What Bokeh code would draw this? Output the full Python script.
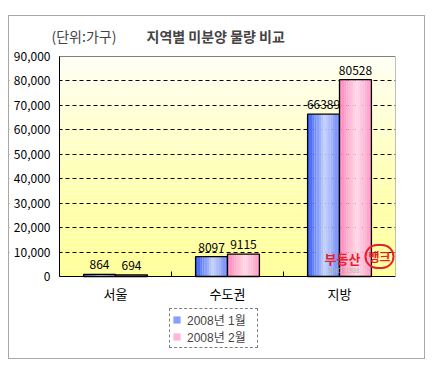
from bokeh.plotting import figure
from bokeh.models import (ColumnDataSource, FixedTicker, NumeralTickFormatter, Range1d,
                          Legend, LegendItem, Label)
from bokeh.core.properties import value
from bokeh.embed import file_html
from bokeh.resources import INLINE

# ---- data ----
categories = ["서울", "수도권", "지방"]
series_names = ["2008년 1월", "2008년 2월"]
jan = [864, 8097, 66389]
feb = [694, 9115, 80528]
y_ticks = [0, 10000, 20000, 30000, 40000, 50000, 60000, 70000, 80000, 90000]
title_unit = "(단위:가구)"
title_main = "지역별 미분양 물량 비교"

FONT = "Noto Sans CJK KR"
LFONT = "'Liberation Sans', 'Noto Sans CJK KR'"
Y_MAX = y_ticks[-1]
PLOT_PX = 220      # pixel height of the 0..90,000 plot area
ABOVE_PX = 255     # frame pixels above the zero line (plot area + title strip)
BELOW_PX = 84      # frame pixels below the zero line (category labels + legend)
K = Y_MAX / PLOT_PX
LEFT_PX = 50       # frame pixels left of the plot area (y tick labels)
PLOT_W_PX = 336
ncat = len(categories)
XK = ncat / PLOT_W_PX

def hex2rgb(h):
    h = h.lstrip("#")
    return tuple(int(h[i:i + 2], 16) for i in (0, 2, 4))

def lerp_color(stops, t):
    for (t0, c0), (t1, c1) in zip(stops[:-1], stops[1:]):
        if t0 <= t <= t1:
            f = (t - t0) / (t1 - t0) if t1 > t0 else 0
            a, b = hex2rgb(c0), hex2rgb(c1)
            return "#%02x%02x%02x" % tuple(int(round(a[k] + (b[k] - a[k]) * f)) for k in range(3))
    return stops[-1][1]

blue_stops = [(0.0, "#3358ff"), (0.55, "#c4d2ff"), (1.0, "#6a84ff")]
pink_stops = [(0.0, "#ff84bb"), (0.55, "#ffd9ec"), (1.0, "#ff96c8")]

x_start = -LEFT_PX * XK
p = figure(width=417, height=344, output_backend="svg", toolbar_location=None,
           x_range=Range1d(x_start, ncat), y_range=Range1d(-BELOW_PX * K, ABOVE_PX * K),
           min_border_left=0, min_border_right=31, min_border_top=5, min_border_bottom=0,
           background_fill_color="#ffffff", border_fill_color="#ffffff")
p.margin = (15, 0, 0, 8)
p.styles = {"border": "1px solid #a8a8a8"}
p.outline_line_color = None

# background vertical gradient of the plot area
nb = 45
bg = dict(left=[], right=[], bottom=[], top=[], color=[])
for i in range(nb):
    t = (i + 0.5) / nb
    bg["left"].append(0); bg["right"].append(ncat)
    bg["bottom"].append(Y_MAX * i / nb); bg["top"].append(Y_MAX * (i + 1) / nb)
    bg["color"].append(lerp_color([(0.0, "#ffff99"), (0.45, "#ffffb6"), (1.0, "#fffff5")], t))
p.quad(left="left", right="right", bottom="bottom", top="top", source=ColumnDataSource(bg),
       fill_color="color", line_color=None, level="image")

# white strip left of the plot area (keeps grid lines inside the plot area)
p.quad(left=[x_start], right=[0], bottom=[0], top=[Y_MAX], fill_color="white", line_color=None)

# bars with horizontal gradient
bw = 0.285
ns = 14
centers = [i + 0.5 for i in range(ncat)]
legend_items = []
for si, (vals, stops, off) in enumerate([(jan, blue_stops, -bw / 2), (feb, pink_stops, bw / 2)]):
    d = dict(x=[], w=[], top=[], color=[])
    for c, v in zip(centers, vals):
        left = c + off - bw / 2
        for k in range(ns):
            t = (k + 0.5) / ns
            d["x"].append(left + (k + 0.5) * bw / ns)
            d["w"].append(bw / ns * 1.02)
            d["top"].append(v)
            d["color"].append(lerp_color(stops, t))
    r_fill = p.vbar(x="x", width="w", top="top", bottom=0, source=ColumnDataSource(d),
                    fill_color="color", line_color=None)
    o = dict(x=[c + off for c in centers], top=vals)
    r_out = p.vbar(x="x", width=bw, top="top", bottom=0, source=ColumnDataSource(o),
                   fill_alpha=0, line_color="black", line_width=1.3)
    legend_items.append(LegendItem(label=series_names[si], renderers=[r_fill, r_out], index=4))

# plot-area border (grey top/right)
p.quad(left=[0], right=[ncat], bottom=[0], top=[Y_MAX], fill_color=None,
       line_color="#808080", line_width=1)

# value labels
lab = dict(x=[c - bw / 2 for c in centers] + [c + bw / 2 for c in centers],
           y=jan + feb, t=[str(v) for v in jan + feb])
p.text(x="x", y="y", text="t", source=ColumnDataSource(lab), text_align="center",
       text_baseline="bottom", y_offset=-5, text_font=value(FONT), text_font_size="12px",
       text_color="black")

# axes
p.xgrid.visible = False
p.ygrid.ticker = FixedTicker(ticks=y_ticks[1:-1])
p.ygrid.grid_line_color = "black"
p.ygrid.grid_line_dash = "4 3"
p.ygrid.grid_line_width = 1

ya = p.yaxis[0]
ya.fixed_location = 0
ya.ticker = FixedTicker(ticks=y_ticks)
ya.bounds = (0, Y_MAX)
ya.formatter = NumeralTickFormatter(format="0,0")
ya.major_tick_in = 0
ya.major_tick_out = 0
ya.minor_tick_in = 0
ya.minor_tick_out = 0
ya.axis_line_color = "black"
ya.major_label_standoff = 9
ya.major_label_text_font = FONT
ya.major_label_text_font_size = "12px"
ya.major_label_text_color = "black"

xa = p.xaxis[0]
xa.fixed_location = 0
xa.bounds = (0, ncat)
xa.ticker = FixedTicker(ticks=centers, minor_ticks=[1, 2])
xa.major_label_overrides = {c: name for c, name in zip(centers, categories)}
xa.major_tick_in = 0
xa.major_tick_out = 0
xa.minor_tick_in = 5
xa.minor_tick_out = 0
xa.minor_tick_line_color = "black"
xa.axis_line_color = "black"
xa.major_label_standoff = 7
xa.major_label_text_font = FONT
xa.major_label_text_font_size = "13px"
xa.major_label_text_color = "black"

# legend (inside the frame, below the category labels)
legend = Legend(items=legend_items, location=(160, 12), orientation="vertical",
                border_line_color="black", border_line_dash="3 2", border_line_width=1,
                background_fill_color="white", background_fill_alpha=1,
                padding=2, spacing=0, margin=0, glyph_width=9, glyph_height=9,
                label_standoff=6, label_height=14, label_width=68,
                label_text_font=LFONT, label_text_font_size="12px")
p.add_layout(legend)

# titles
p.add_layout(Label(x=42, y=ABOVE_PX + BELOW_PX - 14, x_units="screen", y_units="screen",
                   text=title_unit, text_font=FONT, text_font_size="14px",
                   text_baseline="middle"))
p.add_layout(Label(x=137, y=ABOVE_PX + BELOW_PX - 14, x_units="screen", y_units="screen",
                   text=title_main, text_font=FONT, text_font_size="14px",
                   text_font_style="bold", text_baseline="middle"))

# watermark logo
p.add_layout(Label(x=315, y=BELOW_PX + 18, x_units="screen", y_units="screen", text="부동산",
                   text_font=FONT, text_font_size="13px", text_font_style="bold",
                   text_color="#e8202a", text_baseline="middle"))
p.add_layout(Label(x=370, y=BELOW_PX + 20, x_units="screen", y_units="screen", text="뱅크",
                   text_font=FONT, text_font_size="12px", text_font_style="bold",
                   text_color="#e8202a", text_baseline="middle", text_align="center",
                   border_line_color="#e8202a", border_line_width=2, border_radius=13,
                   padding=3))
p.add_layout(Label(x=334, y=BELOW_PX + 6, x_units="screen", y_units="screen", text="SINCE 1988",
                   text_font=FONT, text_font_size="6px", text_color="#b0b0b0",
                   text_baseline="middle", text_align="center"))

open("out.html", "w").write(file_html(p, INLINE))
